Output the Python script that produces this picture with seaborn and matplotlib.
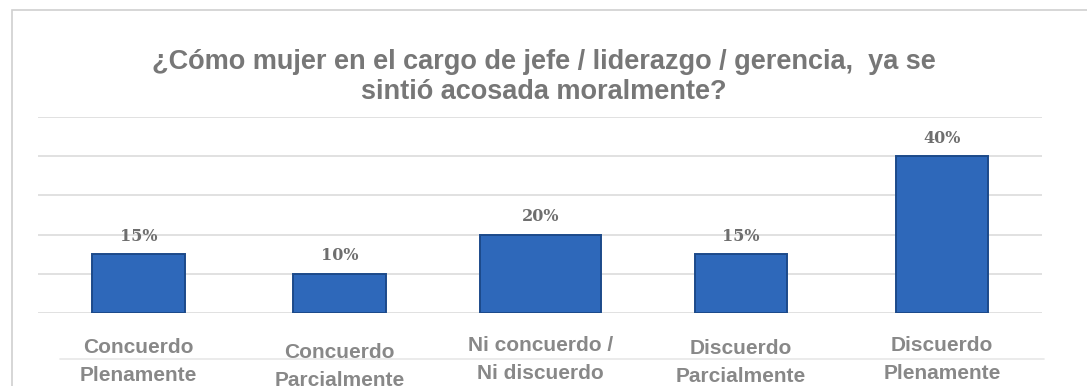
import matplotlib
matplotlib.use("Agg")
import matplotlib.pyplot as plt
import seaborn as sns
import pandas as pd
from matplotlib.patches import Rectangle
from matplotlib.lines import Line2D

categories = ["Concuerdo\nPlenamente", "Concuerdo\nParcialmente", "Ni concuerdo /\nNi discuerdo",
              "Discuerdo\nParcialmente", "Discuerdo\nPlenamente"]
values = [15, 10, 20, 15, 40]
value_labels = ["15%", "10%", "20%", "15%", "40%"]
title = "¿Cómo mujer en el cargo de jefe / liderazgo / gerencia,  ya se\nsintió acosada moralmente?"

sns.set_theme(style="white")
plt.rcParams['font.family'] = ['Liberation Sans', 'DejaVu Sans']

fig = plt.figure(figsize=(10.87, 3.86), dpi=100)
ax = fig.add_axes([0.035, 0.189, 0.924, 0.508])

df = pd.DataFrame({"cat": categories, "val": values})
sns.barplot(data=df, x="cat", y="val", color="#2E68BA", width=0.46, ax=ax,
            edgecolor="#1C4A8A", linewidth=1.4, saturation=1)

# middle bar is drawn wider in the reference
p = ax.patches[2]
cx = p.get_x() + p.get_width() / 2
p.set_width(0.6)
p.set_x(cx - 0.3)

ax.set_ylim(0, 50)
ax.set_yticks([0, 10, 20, 30, 40, 50])
ax.yaxis.grid(True, color="#dcdcdc", linewidth=1.2)
ax.set_axisbelow(True)
for s in ax.spines.values():
    s.set_visible(False)
ax.set_yticklabels([])
ax.tick_params(left=False, bottom=False)
ax.set_xlabel("")
ax.set_ylabel("")
ax.set_xticklabels([])

for i, (v, lab) in enumerate(zip(values, value_labels)):
    ax.text(i, v + 2.4, lab, ha="center", va="bottom", fontsize=11.5,
            family=["DejaVu Serif"], fontweight="bold", color="#6e6e6e")

# faint line behind the category labels
fig.add_artist(Line2D([0.055, 0.96], [1 - 359 / 386] * 2, transform=fig.transFigure,
                      color="#e8e8e8", linewidth=1.2, zorder=0))

offsets = [0, 5, -2, 1, -2]
for i, (c, off) in enumerate(zip(categories, offsets)):
    ax.annotate(c, xy=(i, 0), xycoords="data", xytext=(0, -18 - off * 0.72),
                textcoords="offset points", ha="center", va="top", fontsize=15,
                fontweight="bold", color="#888888", linespacing=1.6)

fig.text(0.5, 0.80, title, ha="center", va="center", fontsize=19.5, fontweight="bold",
         color="#777777", linespacing=1.2)

fig.patches.append(Rectangle((0.011, -0.05), 1.0, 1.025, transform=fig.transFigure,
                             fill=False, edgecolor="#d0d0d0", linewidth=1.2))

fig.savefig("out.png", dpi=100)
